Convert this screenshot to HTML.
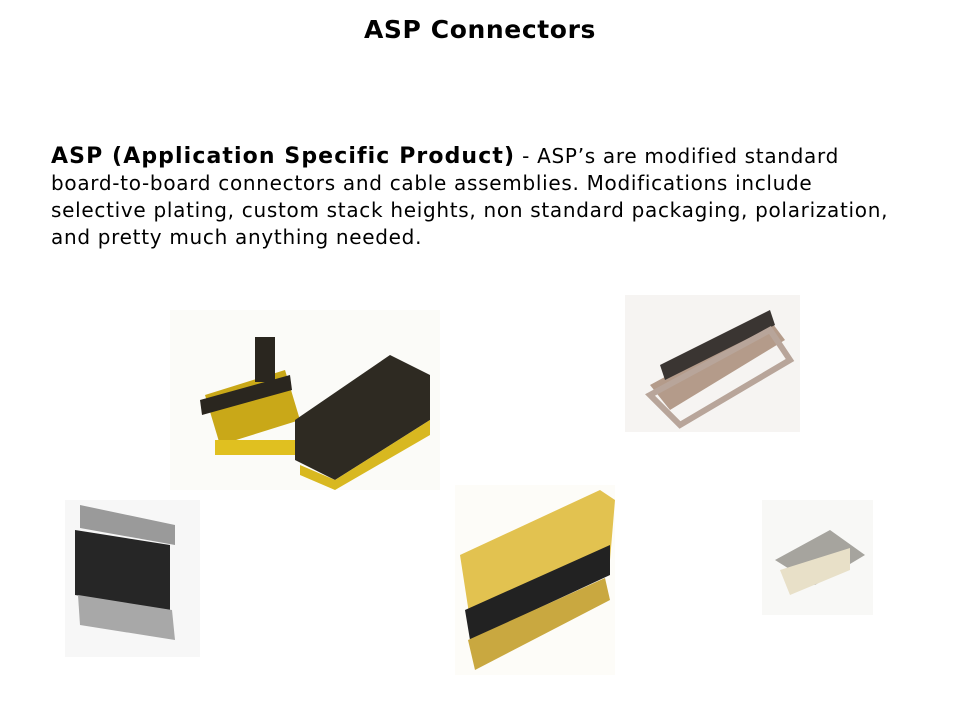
<!DOCTYPE html>
<html><head><meta charset="utf-8"><style>
body{margin:0;width:960px;height:720px;background:#fff;position:relative;overflow:hidden;font-family:"DejaVu Sans","Liberation Sans",sans-serif;color:#000}
.t{position:absolute;top:15px;left:0;width:960px;text-align:center;font-weight:bold;font-size:25px;letter-spacing:0.6px}
.p{position:absolute;left:51px;top:143px;font-size:20px;line-height:27px;white-space:nowrap;letter-spacing:0.7px}
.p b{font-size:22px;letter-spacing:1.1px}
svg{position:absolute;left:0;top:0}
</style></head><body>
<div class="t">ASP Connectors</div>
<div class="p"><b>ASP (Application Specific Product)</b> - ASP’s are modified standard<br>board-to-board connectors and cable assemblies. Modifications include<br>selective plating, custom stack heights, non standard packaging, polarization,<br>and pretty much anything needed.</div>
<svg width="960" height="720">
<rect x="170" y="310" width="270" height="180" fill="#fbfbf8"/>
<polygon points="205,395 285,370 300,420 220,445" fill="#c9a818"/>
<polygon points="200,400 290,375 292,390 202,415" fill="#2a261f"/>
<rect x="255" y="337" width="20" height="45" fill="#2a261f"/>
<rect x="215" y="440" width="80" height="15" fill="#e0c020"/>
<polygon points="295,420 390,355 430,375 430,420 335,480 295,460" fill="#2e2a22"/>
<polygon points="300,465 335,480 430,420 430,435 335,490 300,475" fill="#d8b820"/>
<rect x="625" y="295" width="175" height="137" fill="#f6f4f2"/>
<polygon points="650,385 770,320 785,340 670,410" fill="#b49b8a"/>
<polygon points="660,365 770,310 775,325 665,380" fill="#3a3532"/>
<polygon points="650,395 770,330 790,360 680,425" fill="none" stroke="#b8a59a" stroke-width="6"/>
<rect x="65" y="500" width="135" height="157" fill="#f7f7f7"/>
<polygon points="75,530 170,545 170,610 75,595" fill="#262626"/>
<polygon points="80,505 175,525 175,545 80,528" fill="#9a9a9a"/>
<polygon points="78,595 172,610 175,640 80,625" fill="#a8a8a8"/>
<rect x="455" y="485" width="160" height="190" fill="#fdfcf8"/>
<polygon points="460,555 600,490 615,500 610,560 470,620" fill="#e2c250"/>
<polygon points="465,610 610,545 610,575 470,640" fill="#222"/>
<polygon points="468,640 605,578 610,600 475,670" fill="#c9a840"/>
<rect x="762" y="500" width="111" height="115" fill="#f8f8f6"/>
<polygon points="775,560 830,530 865,555 815,585" fill="#a6a49e"/>
<polygon points="780,570 850,548 850,570 790,595" fill="#e8e0c8"/>
</svg>
</body></html>
